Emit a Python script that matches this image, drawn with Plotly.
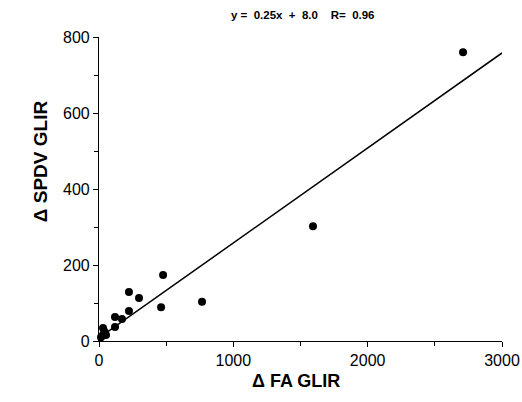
import plotly.graph_objects as go

fa_glir = [2710, 1593, 767, 477, 462, 298, 223, 223, 171, 119, 119, 30, 30, 52, 15, 40]
spdv_glir = [760, 302, 103, 174, 89, 113, 129, 79, 58, 63, 37, 34, 16, 16, 10, 25]
slope = 0.25
intercept = 8.0
fit_x = [0, 3000]
fit_y = [intercept + slope * v for v in fit_x]
title_text = "y =  0.25x  +  8.0    R=  0.96"
x_label = "Δ FA GLIR"
y_label = "Δ SPDV GLIR"

fig = go.Figure()
fig.add_trace(go.Scatter(x=fit_x, y=fit_y, mode="lines",
                         line=dict(color="black", width=1.5), showlegend=False, cliponaxis=False))
fig.add_trace(go.Scatter(x=fa_glir, y=spdv_glir, mode="markers",
                         marker=dict(color="black", size=8), showlegend=False, cliponaxis=False))

font = "Liberation Sans, Arial, sans-serif"
tickfont = dict(family=font, size=16)
fig.update_layout(
    width=522, height=402,
    margin=dict(l=99, r=20, t=37, b=61),
    paper_bgcolor="white", plot_bgcolor="white",
    font=dict(family=font, color="black"),
    title=dict(text="<b>" + title_text + "</b>", x=0.58, xanchor="center", y=0.962, yanchor="middle",
               font=dict(size=11.5, family=font)),
)
fig.update_xaxes(range=[0, 3000], tickvals=[0, 1000, 2000, 3000], showgrid=False, zeroline=False,
                 showline=True, linecolor="black", linewidth=1.2, ticks="outside", ticklen=5,
                 tickcolor="black", minor=dict(dtick=500, ticks="outside", ticklen=4, tickcolor="black"),
                 automargin=False, tickfont=tickfont)
fig.update_yaxes(range=[0, 800], tickvals=[0, 200, 400, 600, 800], showgrid=False, zeroline=False,
                 showline=True, linecolor="black", linewidth=1.2, ticks="outside", ticklen=5,
                 tickcolor="black", minor=dict(dtick=100, ticks="outside", ticklen=4, tickcolor="black"),
                 automargin=False, tickfont=tickfont)
fig.add_annotation(text="<b>" + x_label + "</b>", xref="paper", yref="paper", x=0.49, y=-0.132,
                   xanchor="center", yanchor="middle", showarrow=False, font=dict(size=18, family=font))
fig.add_annotation(text="<b>" + y_label + "</b>", xref="paper", yref="paper", x=-0.146, y=0.592,
                   xanchor="center", yanchor="middle", textangle=-90, showarrow=False,
                   font=dict(size=19, family=font))
fig.write_html("out.html", config={"displayModeBar": False},
               post_script="document.body.style.margin='0';document.body.style.overflow='hidden';")
